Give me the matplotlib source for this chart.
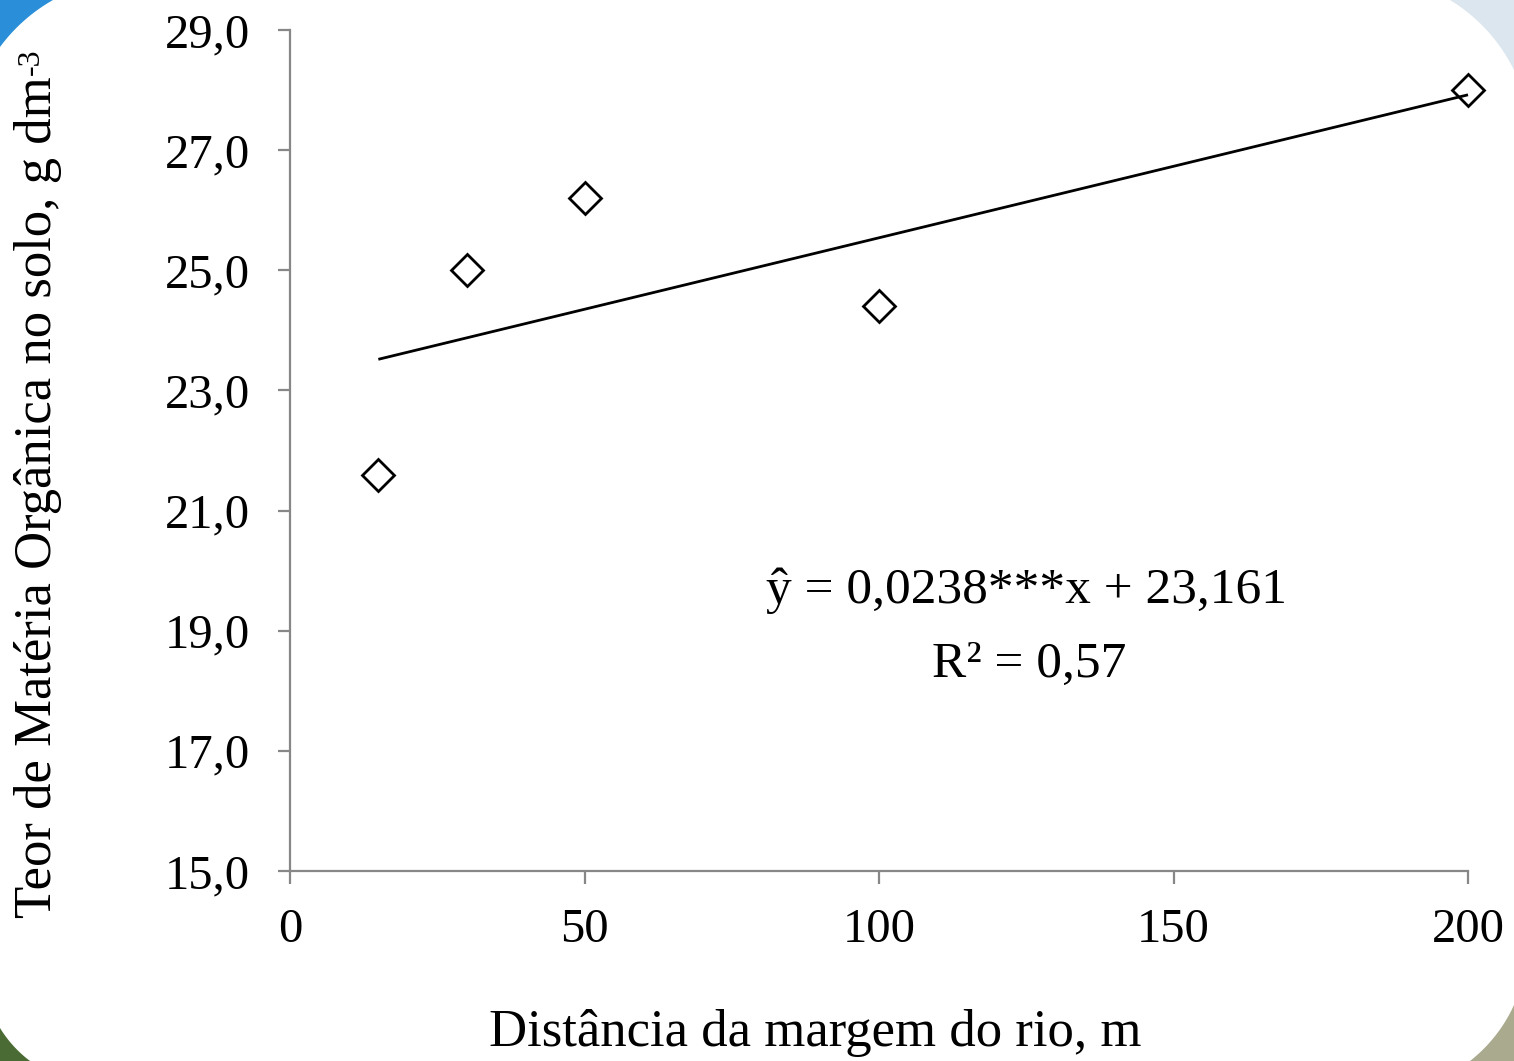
import numpy as np
import matplotlib
matplotlib.use("Agg")
import matplotlib.pyplot as plt
from matplotlib.patches import Polygon

# Data: distance from the river bank (m) and soil organic matter content (g dm-3)
distance = [15, 30, 50, 100, 200]
organic_matter = [21.6, 25.0, 26.2, 24.4, 28.0]

# Linear regression reported for the series
slope = 0.0238
intercept = 23.161
r_squared = "0,57"

x_ticks = [0, 50, 100, 150, 200]
x_tick_labels = ["0", "50", "100", "150", "200"]
y_ticks = [15.0, 17.0, 19.0, 21.0, 23.0, 25.0, 27.0, 29.0]
y_tick_labels = ["15,0", "17,0", "19,0", "21,0", "23,0", "25,0", "27,0", "29,0"]

plt.rcParams["font.family"] = ["Liberation Serif", "DejaVu Serif"]

W, H = 1514, 1061
fig = plt.figure(figsize=(W / 100, H / 100), dpi=100)
fig.patch.set_facecolor("white")

# Background layer: photo-like corners behind a rounded white card
bg = fig.add_axes([0, 0, 1, 1], zorder=-5)
bg.set_xlim(0, W)
bg.set_ylim(H, 0)
bg.axis("off")


def corner_patch(p1, p2, corner, radius, color):
    """Fill the area between an image corner and a circular arc through p1 and p2."""
    p1 = np.array(p1, float)
    p2 = np.array(p2, float)
    mid = (p1 + p2) / 2
    d = p2 - p1
    half = np.linalg.norm(d) / 2
    h = np.sqrt(max(radius ** 2 - half ** 2, 0))
    n = np.array([-d[1], d[0]]) / np.linalg.norm(d)
    c1, c2 = mid + n * h, mid - n * h
    cpt = np.array(corner, float)
    center = c1 if np.linalg.norm(c1 - cpt) > np.linalg.norm(c2 - cpt) else c2
    a1 = np.arctan2(p1[1] - center[1], p1[0] - center[0])
    a2 = np.arctan2(p2[1] - center[1], p2[0] - center[0])
    if abs(a2 - a1) > np.pi:
        if a2 > a1:
            a1 += 2 * np.pi
        else:
            a2 += 2 * np.pi
    t = np.linspace(a1, a2, 60)
    arc = np.column_stack([center[0] + radius * np.cos(t), center[1] + radius * np.sin(t)])
    pts = np.vstack([arc, [cpt]])
    bg.add_patch(Polygon(pts, closed=True, facecolor=color, edgecolor="none"))


corner_patch((0, 47), (53, 0), (0, 0), 170, "#2a8fd8")
corner_patch((1450, 0), (1514, 70), (W, 0), 170, "#dbe6ee")
corner_patch((0, 1028), (30, 1061), (0, H), 120, "#4b6b34")
corner_patch((1470, 1061), (1514, 1005), (W, H), 150, "#a9aa8e")

# Main plot area
left, right = 290 / W, 1468 / W
bottom, top = 1 - 871 / H, 1 - 30 / H
ax = fig.add_axes([left, bottom, right - left, top - bottom])
ax.set_facecolor("none")

ax.set_xlim(0, 200)
ax.set_ylim(15.0, 29.0)

axis_gray = "#878787"
for side in ("top", "right"):
    ax.spines[side].set_visible(False)
for side in ("left", "bottom"):
    ax.spines[side].set_color(axis_gray)
    ax.spines[side].set_linewidth(1.6)
    ax.spines[side].set_clip_on(False)

ax.set_xticks(x_ticks)
ax.set_xticklabels(x_tick_labels)
ax.set_yticks(y_ticks)
ax.set_yticklabels(y_tick_labels)
ax.tick_params(axis="both", direction="out", color=axis_gray, width=1.6,
               length=9, labelsize=35, labelcolor="black")
ax.tick_params(axis="y", pad=20)
ax.tick_params(axis="x", pad=18)

# Observed values
ax.plot(distance, organic_matter, linestyle="none", marker="D", markersize=16.5,
        markerfacecolor="none", markeredgecolor="black", markeredgewidth=2.0,
        clip_on=False, zorder=3)

# Fitted line over the sampled range
x_fit = np.array([min(distance), max(distance)])
y_fit = slope * x_fit + intercept
ax.plot(x_fit, y_fit, color="black", linewidth=2.0, solid_capstyle="butt",
        clip_on=False, zorder=2)

# Regression equation
eq_text = "ŷ = " + f"{slope:.4f}".replace(".", ",") + "***x + " + f"{intercept:.3f}".replace(".", ",")
fig.text(1027 / W, 1 - 591 / H, eq_text, ha="center", va="center", fontsize=37)
fig.text(1029 / W, 1 - 665 / H, "R² = " + r_squared, ha="center", va="center", fontsize=37)

# Axis titles
fig.text(815 / W, 1 - 1033 / H, "Distância da margem do rio, m",
         ha="center", va="center", fontsize=38)
ylab = fig.text(38 / W, 1 - 918 / H, "Teor de Matéria Orgânica no solo, g dm",
                ha="center", va="bottom", rotation=90, fontsize=38)

# Unit exponent set as a small raised "-3" after the rotated label
fig.canvas.draw()
ext = ylab.get_window_extent(fig.canvas.get_renderer())
fig.text(17 / W, (ext.y1 + 1) / H, "-3", ha="left", va="bottom",
         rotation=90, fontsize=23)

fig.savefig("out.png", dpi=100, facecolor=fig.get_facecolor())
